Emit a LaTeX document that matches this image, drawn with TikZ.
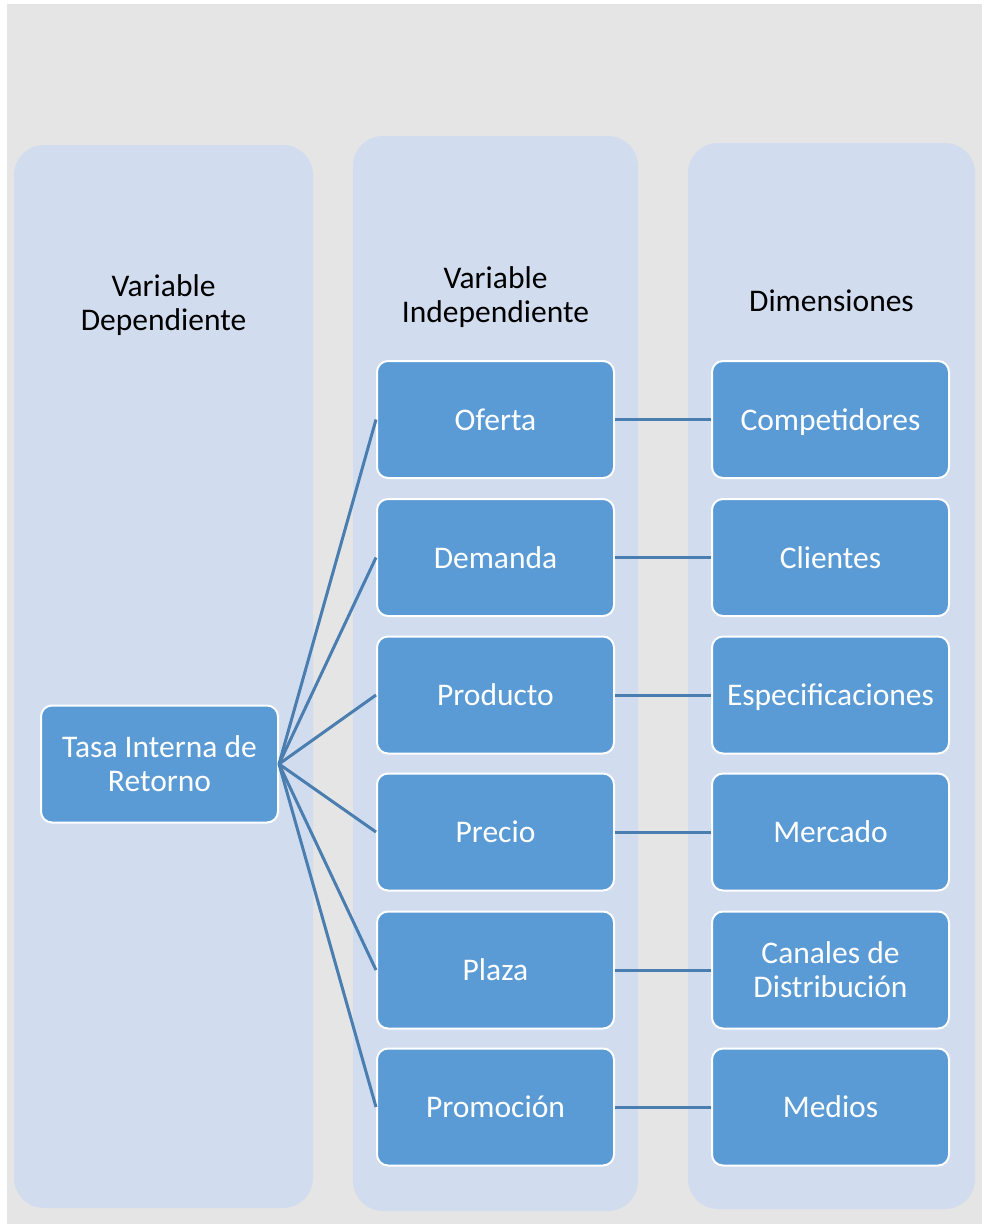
\documentclass[tikz,border=0pt]{standalone}
\usepackage{fontspec}
\setmainfont{Carlito}
\definecolor{bggray}{HTML}{E5E5E5}
\definecolor{colfill}{HTML}{D1DCEE}
\definecolor{boxblue}{HTML}{5B9BD5}
\definecolor{linecol}{HTML}{4A7DB0}
\begin{document}
\begin{tikzpicture}[x=1pt,y=-1pt,
  col/.style={fill=colfill, draw=none, rounded corners=30pt, inner sep=0pt},
  hdr/.style={font=\fontsize{31.5}{34}\selectfont, align=center, text=black, inner sep=0pt},
  box/.style={fill=boxblue, draw=white, line width=2pt, rounded corners=11pt,
              minimum width=237pt, minimum height=117pt, text=white, inner sep=0pt,
              font=\fontsize{31.5}{34}\selectfont, align=center},
  onel/.style={box, text height=21.5pt, text depth=0pt},
  conn/.style={draw=linecol, line width=3pt}]
\useasboundingbox (0,0) rectangle (982,1224);
\fill[bggray] (7,4) rectangle (982,1224);
% columns
\node[col, minimum width=299pt, minimum height=1063pt] (c1) at (163.5,676.5) {};
\node[col, minimum width=285pt, minimum height=1075pt] (c2) at (495.5,673.5) {};
\node[col, minimum width=287pt, minimum height=1066pt] (c3) at (831.5,676) {};
% headers
\node[hdr] (h1) at (163.5,305) {Variable\\Dependiente};
\node[hdr] (h2) at (495.5,297.5) {Variable\\Independiente};
\node[hdr] (h3) at (831.5,301) {Dimensiones};
% dependent
\node[box] (tir) at (159.5,764) {Tasa Interna de\\Retorno};
% independent
\node[onel] (v1) at (495.5,419.5) {Oferta};
\node[onel] (v2) at (495.5,557.5) {Demanda};
\node[onel] (v3) at (495.5,695) {Producto};
\node[onel] (v4) at (495.5,832) {Precio};
\node[onel] (v5) at (495.5,970) {Plaza};
\node[onel] (v6) at (495.5,1107) {Promoción};
% dimensions
\node[onel] (d1) at (830.5,419.5) {Competidores};
\node[onel] (d2) at (830.5,557.5) {Clientes};
\node[onel] (d3) at (830.5,695) {Especificaciones};
\node[onel] (d4) at (830.5,832) {Mercado};
\node[box] (d5) at (830.5,970) {Canales de\\Distribución};
\node[onel] (d6) at (830.5,1107) {Medios};
% connectors
\foreach \i in {1,...,6}{
  \draw[conn] (tir.east) -- (v\i.west);
  \draw[conn] (v\i.east) -- (d\i.west);
}
\end{tikzpicture}
\end{document}
